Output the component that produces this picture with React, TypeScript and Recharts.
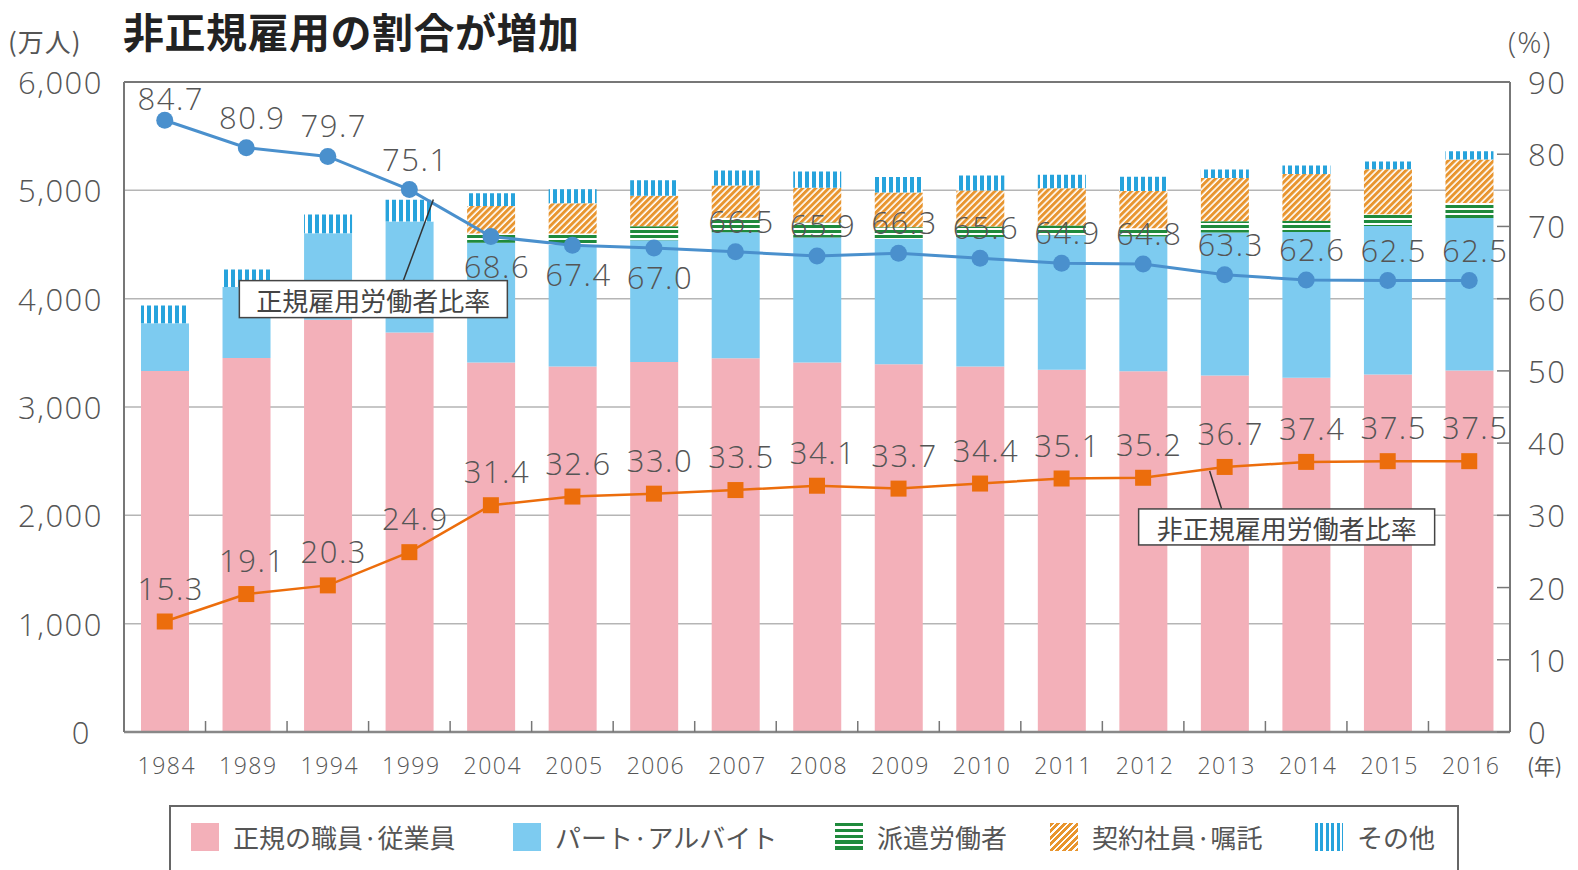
import React from 'react';
import { ComposedChart, Bar, Line, XAxis, YAxis, CartesianGrid, LabelList, ReferenceLine } from 'recharts';

const years = ['1984', '1989', '1994', '1999', '2004', '2005', '2006', '2007', '2008', '2009', '2010', '2011', '2012', '2013', '2014', '2015', '2016'];
const regular = [3333, 3452, 3805, 3688, 3410, 3375, 3415, 3449, 3410, 3395, 3374, 3345, 3330, 3290, 3270, 3300, 3336];
const partTime = [440, 656, 800, 1024, 1106, 1120, 1125, 1165, 1154, 1156, 1196, 1240, 1245, 1320, 1345, 1370, 1409];
const dispatched = [0, 0, 0, 0, 85, 106, 128, 133, 140, 108, 96, 90, 75, 105, 105, 110, 139];
const contract = [0, 0, 0, 0, 255, 279, 283, 298, 320, 322, 333, 345, 345, 400, 430, 415, 400];
const others = [164, 161, 171, 201, 118, 129, 141, 139, 150, 141, 138, 125, 130, 78, 80, 72, 76];
const regularRatio = [84.7, 80.9, 79.7, 75.1, 68.6, 67.4, 67.0, 66.5, 65.9, 66.3, 65.6, 64.9, 64.8, 63.3, 62.6, 62.5, 62.5];
const nonRegularRatio = [15.3, 19.1, 20.3, 24.9, 31.4, 32.6, 33.0, 33.5, 34.1, 33.7, 34.4, 35.1, 35.2, 36.7, 37.4, 37.5, 37.5];
const leftTicks = [0, 1000, 2000, 3000, 4000, 5000, 6000];
const rightTicks = [0, 10, 20, 30, 40, 50, 60, 70, 80, 90];

const seriesNames = ['正規の職員·従業員', 'パート·アルバイト', '派遣労働者', '契約社員·嘱託', 'その他'];
const title = '非正規雇用の割合が増加';
const regularCallout = '正規雇用労働者比率';
const nonRegularCallout = '非正規雇用労働者比率';

// style-only settings
const regularLabelBelow = [false, false, false, false, true, true, true, false, false, false, false, false, false, false, false, false, false];
const regularCalloutIndex = 3;
const nonRegularCalloutIndex = 13;

const data = years.map((y, i) => ({
  year: y,
  regular: regular[i],
  partTime: partTime[i],
  dispatched: dispatched[i],
  contract: contract[i],
  others: others[i],
  regularRatio: regularRatio[i],
  nonRegularRatio: nonRegularRatio[i],
}));

const FONT = "'Noto Sans CJK JP', 'Noto Sans', sans-serif";
const NUMFONT = "'Open Sans', 'Noto Sans', sans-serif";
const TEXT = '#555';
const PINK = '#f3b0b9';
const LIGHTBLUE = '#7dcbf0';
const GREEN = '#1f8a3c';
const ORANGE = '#e8952f';
const STRIPEBLUE = '#27a3dc';
const LINEBLUE = '#4a90cd';
const LINEORANGE = '#ec6d0c';

const numStyle = { fontFamily: NUMFONT, fontWeight: 300 } as React.CSSProperties;

const LeftTick = (props: any) => {
  const { x, y, payload } = props;
  const v = payload.value as number;
  return (
    <text x={v === 0 ? x - 12 : x} y={y} textAnchor="end" dominantBaseline="central" fontSize={31} fill={TEXT} letterSpacing={1.5} style={numStyle}>
      {v.toLocaleString('en-US')}
    </text>
  );
};

const RightTick = (props: any) => {
  const { x, y, payload } = props;
  return (
    <text x={x} y={y} textAnchor="start" dominantBaseline="central" fontSize={31} fill={TEXT} letterSpacing={1.5} style={numStyle}>
      {payload.value}
    </text>
  );
};

const YearTick = (props: any) => {
  const { x, y, payload, index } = props;
  const off = payload && typeof payload.offset === 'number' ? payload.offset : 0;
  return (
    <g>
      {index < years.length - 1 && (
        <line x1={x + off} x2={x + off} y1={y} y2={y - 11} stroke="#777" strokeWidth={1.5} />
      )}
      <text x={x + 2} y={y + 33} textAnchor="middle" dominantBaseline="central" fontSize={23} fill={TEXT} letterSpacing={1.5} style={numStyle}>
        {payload.value}
      </text>
    </g>
  );
};

const RegularLabel = (props: any) => {
  const { x, y, value, index } = props;
  const below = regularLabelBelow[index];
  const ty = below ? y + 29 : Math.max(y - 31, 98);
  return (
    <g>
      <text x={x + 6} y={ty} textAnchor="middle" dominantBaseline="central" fontSize={31} fill={TEXT} letterSpacing={1.5} style={numStyle}>
        {Number(value).toFixed(1)}
      </text>
      {index === regularCalloutIndex && (
        <g>
          <line x1={x + 24} y1={y + 10} x2={x - 6} y2={y + 91} stroke="#333" strokeWidth={1.5} />
          <rect x={x - 170} y={y + 91} width={268} height={37} fill="#fff" stroke="#444" strokeWidth={1.5} />
          <text x={x - 36} y={y + 110} textAnchor="middle" dominantBaseline="central" fontSize={26} fill="#444">
            {regularCallout}
          </text>
        </g>
      )}
    </g>
  );
};

const NonRegularLabel = (props: any) => {
  const { x, y, value, index } = props;
  return (
    <g>
      {index === nonRegularCalloutIndex && (
        <g>
          <line x1={x - 15} y1={y + 4} x2={x - 3} y2={y + 42} stroke="#333" strokeWidth={1.5} />
          <rect x={x - 86} y={y + 42} width={296} height={36} fill="#fff" stroke="#444" strokeWidth={1.5} />
          <text x={x + 62} y={y + 61} textAnchor="middle" dominantBaseline="central" fontSize={26} fill="#444">
            {nonRegularCallout}
          </text>
        </g>
      )}
      <text x={x + 6} y={y - 34} textAnchor="middle" dominantBaseline="central" fontSize={31} fill={TEXT} letterSpacing={1.5} style={numStyle}>
        {Number(value).toFixed(1)}
      </text>
    </g>
  );
};

const CircleDot = (props: any) => {
  const { cx, cy, index } = props;
  return <circle key={`c${index}`} cx={cx} cy={cy} r={8.5} fill={LINEBLUE} />;
};

const SquareDot = (props: any) => {
  const { cx, cy, index } = props;
  return <rect key={`s${index}`} x={cx - 8} y={cy - 8} width={16} height={16} fill={LINEORANGE} />;
};

const legendIcons: React.CSSProperties[] = [
  { background: PINK },
  { background: LIGHTBLUE },
  { background: `repeating-linear-gradient(to bottom, ${GREEN} 0px, ${GREEN} 3.5px, #fff 3.5px, #fff 5.8px)` },
  { background: `repeating-linear-gradient(135deg, ${ORANGE} 0px, ${ORANGE} 3px, #fff 3px, #fff 4.6px)` },
  { background: `repeating-linear-gradient(to right, ${STRIPEBLUE} 0px, ${STRIPEBLUE} 3px, #fff 3px, #fff 5.4px)` },
];
const legendLefts = [191, 513, 835, 1050, 1315];

export default function App() {
  return (
    <div style={{ position: 'absolute', left: 0, top: 0, width: 1578, height: 870, overflow: 'hidden', background: '#fff', fontFamily: FONT }}>
      <div style={{ position: 'absolute', left: 123, top: 9, fontSize: 41, fontWeight: 700, color: '#222', lineHeight: '42px', whiteSpace: 'nowrap', letterSpacing: 0.5 }}>
        {title}
      </div>
      <div style={{ position: 'absolute', left: 8, top: 26, fontSize: 26, color: TEXT, lineHeight: '30px', whiteSpace: 'nowrap', letterSpacing: 1 }}>(万人)</div>
      <div style={{ position: 'absolute', left: 1508, top: 24, fontSize: 30, color: TEXT, lineHeight: '36px', whiteSpace: 'nowrap', letterSpacing: 1, ...numStyle }}>(%)</div>
      <div style={{ position: 'absolute', left: 1527, top: 752, fontSize: 21, color: TEXT, lineHeight: '26px', whiteSpace: 'nowrap' }}>(年)</div>

      <div style={{ position: 'absolute', left: 0, top: 0 }}>
        <ComposedChart width={1578} height={870} data={data} margin={{ top: 82, right: 0, bottom: 78, left: 0 }}>
          <defs>
            <pattern id="pDispatch" width="6" height="5" patternUnits="userSpaceOnUse">
              <rect width="6" height="5" fill="#fff" />
              <rect width="6" height="3" fill={GREEN} />
            </pattern>
            <pattern id="pContract" width="4.6" height="8" patternUnits="userSpaceOnUse" patternTransform="rotate(45)">
              <rect width="4.6" height="8" fill="#fff" />
              <rect width="3" height="8" fill={ORANGE} />
            </pattern>
            <pattern id="pOther" width="7" height="7" patternUnits="userSpaceOnUse">
              <rect width="7" height="7" fill="#fff" />
              <rect width="4" height="7" fill={STRIPEBLUE} />
            </pattern>
          </defs>
          <CartesianGrid yAxisId="left" vertical={false} stroke="#b5b5b5" strokeWidth={1.5} />
          <XAxis
            dataKey="year"
            interval={0}
            tickLine={false}
            tickSize={0}
            tickMargin={0}
            height={60}
            axisLine={{ stroke: '#888', strokeWidth: 2.5 }}
            tick={<YearTick />}
          />
          <YAxis
            yAxisId="left"
            orientation="left"
            width={124}
            domain={[0, 6000]}
            ticks={leftTicks}
            tickLine={false}
            tickSize={0}
            tickMargin={21}
            axisLine={{ stroke: '#777', strokeWidth: 2 }}
            tick={<LeftTick />}
            allowDataOverflow
          />
          <YAxis
            yAxisId="right"
            orientation="right"
            width={68}
            domain={[0, 90]}
            ticks={rightTicks}
            tickSize={-13}
            tickMargin={31}
            tickLine={{ stroke: '#777', strokeWidth: 1.5 }}
            axisLine={{ stroke: '#777', strokeWidth: 2 }}
            tick={<RightTick />}
            allowDataOverflow
          />
          <Bar yAxisId="left" dataKey="regular" stackId="a" fill={PINK} barSize={48} isAnimationActive={false} name={seriesNames[0]} />
          <Bar yAxisId="left" dataKey="partTime" stackId="a" fill={LIGHTBLUE} barSize={48} isAnimationActive={false} name={seriesNames[1]} />
          <Bar yAxisId="left" dataKey="dispatched" stackId="a" fill="url(#pDispatch)" barSize={48} isAnimationActive={false} name={seriesNames[2]} />
          <Bar yAxisId="left" dataKey="contract" stackId="a" fill="url(#pContract)" barSize={48} isAnimationActive={false} name={seriesNames[3]} />
          <Bar yAxisId="left" dataKey="others" stackId="a" fill="url(#pOther)" barSize={48} isAnimationActive={false} name={seriesNames[4]} />
          <ReferenceLine yAxisId="left" y={6000} stroke="#777" strokeWidth={2} />
          <Line
            yAxisId="right"
            type="linear"
            dataKey="regularRatio"
            stroke={LINEBLUE}
            strokeWidth={3}
            dot={<CircleDot />}
            activeDot={false}
            isAnimationActive={false}
          >
            <LabelList dataKey="regularRatio" content={<RegularLabel />} />
          </Line>
          <Line
            yAxisId="right"
            type="linear"
            dataKey="nonRegularRatio"
            stroke={LINEORANGE}
            strokeWidth={2.5}
            dot={<SquareDot />}
            activeDot={false}
            isAnimationActive={false}
          >
            <LabelList dataKey="nonRegularRatio" content={<NonRegularLabel />} />
          </Line>
        </ComposedChart>
      </div>

      <div style={{ position: 'absolute', left: 169, top: 805, width: 1290, height: 90, border: '2px solid #666', boxSizing: 'border-box', background: '#fff' }} />
      {seriesNames.map((name, i) => (
        <React.Fragment key={name}>
          <div style={{ position: 'absolute', left: legendLefts[i], top: 823, width: 28, height: 28, ...legendIcons[i] }} />
          <div style={{ position: 'absolute', left: legendLefts[i] + 42, top: 820, fontSize: 26, lineHeight: '34px', color: TEXT, whiteSpace: 'nowrap' }}>
            {name}
          </div>
        </React.Fragment>
      ))}
    </div>
  );
}
